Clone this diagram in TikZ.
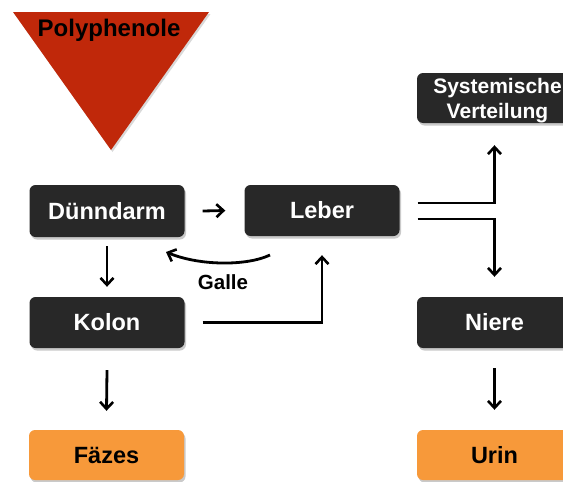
\documentclass[tikz,border=0pt]{standalone}
\usepackage{fontspec}
\setmainfont{Liberation Sans}
\usetikzlibrary{arrows.meta,shadows}
\definecolor{boxdark}{RGB}{40,40,40}
\definecolor{boxorange}{RGB}{247,153,58}
\definecolor{trired}{RGB}{192,40,10}
\tikzset{
  base/.style={rounded corners=6pt, minimum width=155pt, inner sep=0pt,
    font=\fontsize{23.5}{27}\selectfont\bfseries,
    drop shadow={shadow xshift=1.5pt, shadow yshift=-2.5pt, opacity=0.35, fill=black!60}},
  darkbox/.style={base, fill=boxdark, text=white},
  orangebox/.style={base, fill=boxorange, text=black},
  conn/.style={line width=2.8pt, -{Straight Barb[length=7pt,width=13pt,line width=2.6pt]}},
}
\begin{document}
\begin{tikzpicture}[x=1pt,y=-1pt]
\useasboundingbox (0,0) rectangle (563,482);
\clip (0,0) rectangle (563,482);
% triangle
\fill[trired, drop shadow={shadow xshift=1.5pt, shadow yshift=-2pt, opacity=0.3}] (13,12) -- (209,12) -- (111,150) -- cycle;
\node (poly) at (109,30) {\fontsize{24}{28}\selectfont\bfseries Polyphenole};
% boxes
\node[darkbox, minimum height=52pt] (dun) at (107,211) {Dünndarm};
\node[darkbox, minimum height=51pt] (leb) at (322,210.5) {Leber};
\node[darkbox, minimum height=51pt] (kol) at (107,322.5) {Kolon};
\node[orangebox, minimum height=50pt] (fae) at (106.5,455) {Fäzes};
\node[darkbox, minimum height=50pt, minimum width=161pt, font=\fontsize{21}{25}\selectfont\bfseries] (sys) at (497.5,98) {\raisebox{-3pt}[\height][\depth]{\begin{tabular}{@{}c@{}}Systemische\\Verteilung\end{tabular}}};
\node[darkbox, minimum height=51pt] (nie) at (494.5,322.5) {Niere};
\node[orangebox, minimum height=50pt] (uri) at (494.5,455) {Urin};
% connectors
\draw[conn] ([xshift=18pt]dun.east) -- ([xshift=-19pt]leb.west);
\draw[conn] ([yshift=-9pt]dun.south) -- ([yshift=10pt]kol.north);
\draw[conn] ([xshift=18pt]kol.east) -| ([yshift=-19pt]leb.south);
\draw[conn] ([yshift=-22pt]kol.south) -- ([yshift=19pt]fae.north);
\coordinate (g1) at (270,255);
\coordinate (g2) at (166,252);
\draw[conn] (g1) .. controls (247,266) and (200,266) .. (g2);
\node[font=\fontsize{20.5}{24}\selectfont\bfseries] (galle) at (223,282) {Galle};
\draw[conn] ([xshift=18pt,yshift=7.5pt]leb.east) -| ([xshift=-3pt,yshift=-22pt]sys.south);
\draw[conn] ([xshift=18pt,yshift=-8.5pt]leb.east) -| ([yshift=20pt]nie.north);
\draw[conn] ([yshift=-20pt]nie.south) -- ([yshift=20pt]uri.north);
\end{tikzpicture}
\end{document}
